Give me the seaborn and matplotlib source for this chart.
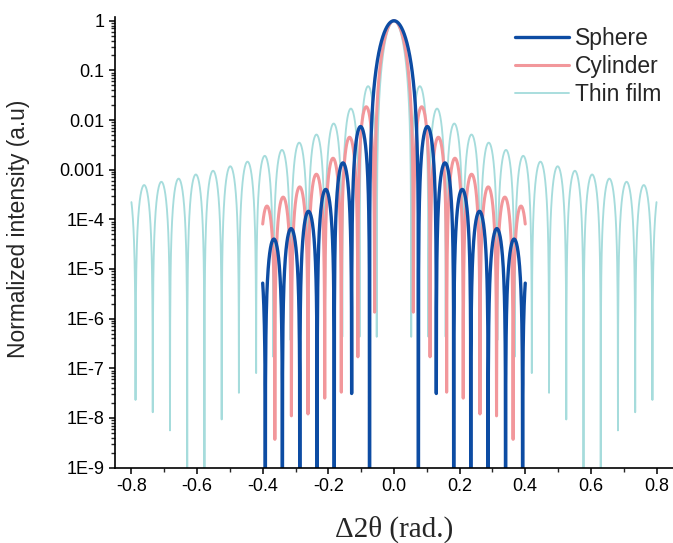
import numpy as np
import pandas as pd
import matplotlib
matplotlib.use("Agg")
import matplotlib.pyplot as plt
import seaborn as sns
from matplotlib.ticker import FixedLocator, NullFormatter, LogLocator, MultipleLocator

# ---------------- values (positive side, mirror symmetric) -------------
series_names = ["Sphere", "Cylinder", "Thin film"]

# zero (minimum) positions, side-lobe peak heights, depth of the drawn dips, last x
sphere_zeros = [0.0745, 0.129, 0.182, 0.234, 0.287, 0.340, 0.392, 0.444]
sphere_peaks = [0.0074, 0.00137, 4.0e-4, 1.45e-4, 6.5e-5, 4.0e-5, 2.4e-5]
sphere_dips = [1e-11, 3.1e-8, 1e-11, 1e-11, 1e-11, 1e-11, 1e-11]
sphere_xmax = 0.40

cyl_zeros = [0.059, 0.110, 0.1605, 0.211, 0.262, 0.3125, 0.363, 0.411]
cyl_peaks = [0.0185, 0.0045, 0.0017, 8.1e-4, 4.5e-4, 2.8e-4, 1.85e-4]
cyl_dips = [1.35e-6, 1.7e-7, 3.3e-8, 2.5e-8, 1.2e-8, 1.1e-8, 3.7e-9]
cyl_xmax = 0.40

film_zeros = [0.0525, 0.105, 0.1575, 0.21, 0.2625, 0.315, 0.3675, 0.42, 0.4725,
              0.525, 0.5775, 0.63, 0.6825, 0.735, 0.7875, 0.84]
film_peaks = [0.048, 0.0170, 0.0085, 0.0051, 0.0035, 0.0025, 0.0019, 0.00145,
              0.00117, 0.00095, 0.00080, 0.00066, 0.00057, 0.00049, 0.00048]
film_dips = [4.3e-7, 4.3e-7, 4.3e-7, 4.0e-7, 4.3e-7, 3.7e-7, 1.7e-7, 8.0e-8,
             3.2e-8, 9.3e-9, 1e-11, 1e-11, 5.6e-9, 1.3e-8, 2.3e-8]
film_xmax = 0.80

xtick_vals = [-0.8, -0.6, -0.4, -0.2, 0.0, 0.2, 0.4, 0.6, 0.8]
xtick_labels = ["-0.8", "-0.6", "-0.4", "-0.2", "0.0", "0.2", "0.4", "0.6", "0.8"]
ytick_vals = [1, 0.1, 0.01, 0.001, 1e-4, 1e-5, 1e-6, 1e-7, 1e-8, 1e-9]
ytick_labels = ["1", "0.1", "0.01", "0.001", "1E-4", "1E-5", "1E-6", "1E-7", "1E-8", "1E-9"]

colors = {"Sphere": "#0D4CA3", "Cylinder": "#F2979B", "Thin film": "#A6DCDC"}
widths = {"Sphere": 2.4, "Cylinder": 2.2, "Thin film": 1.35}


def lobe_curve(zeros, peaks, dips, xmax, n=90):
    """Trace the lobes between the read zero positions, scaled to the read peaks."""
    xs, ys = [], []
    s = np.linspace(0, 1, n, endpoint=False)
    xs.append(s * zeros[0])
    ys.append(np.sinc(s) ** 2)
    for k in range(len(zeros) - 1):
        z0, z1 = zeros[k], zeros[k + 1]
        if z0 > xmax:
            break
        xs.append(np.array([z0]))
        ys.append(np.array([dips[k]]))
        s = np.linspace(0, 1, n + 1)[1:-1]
        x = z0 + s * (z1 - z0)
        y = peaks[k] * np.sin(np.pi * s) ** 2
        keep = x < xmax
        xs.append(x[keep])
        ys.append(y[keep])
        if z1 > xmax:
            se = (xmax - z0) / (z1 - z0)
            xs.append(np.array([xmax]))
            ys.append(np.array([peaks[k] * np.sin(np.pi * se) ** 2]))
            break
    x = np.concatenate(xs)
    y = np.concatenate(ys)
    xf = np.concatenate([-x[::-1], x[1:]])
    yf = np.concatenate([y[::-1], y[1:]])
    return xf, yf


frames = []
for name, (zz, pp, dd, xm) in zip(series_names, [
        (sphere_zeros, sphere_peaks, sphere_dips, sphere_xmax),
        (cyl_zeros, cyl_peaks, cyl_dips, cyl_xmax),
        (film_zeros, film_peaks, film_dips, film_xmax)]):
    xv, yv = lobe_curve(zz, pp, dd, xm)
    frames.append(pd.DataFrame({"x": xv, "y": yv, "series": name}))
df = pd.concat(frames, ignore_index=True)

sns.set_style("ticks")
plt.rcParams["font.family"] = ["Liberation Sans", "DejaVu Sans"]

fig = plt.figure(figsize=(6.73, 5.43), dpi=100)
ax = fig.add_axes([0.1709, 0.139, 0.829, 0.829])

for name in ["Thin film", "Cylinder", "Sphere"]:
    sub = df[df["series"] == name]
    sns.lineplot(data=sub, x="x", y="y", ax=ax, color=colors[name], lw=widths[name],
                 estimator=None, sort=False, label=name, legend=False)

ax.set_yscale("log")
ax.set_xlim(-0.85, 0.85)
ax.set_ylim(1e-9, 1.17)

ax.xaxis.set_major_locator(FixedLocator(xtick_vals))
ax.set_xticklabels(xtick_labels)
ax.xaxis.set_minor_locator(MultipleLocator(0.1))
ax.yaxis.set_major_locator(FixedLocator(ytick_vals))
ax.set_yticklabels(ytick_labels)
ax.yaxis.set_minor_locator(LogLocator(base=10, subs=np.arange(2, 10) * 1.0, numticks=100))
ax.yaxis.set_minor_formatter(NullFormatter())

ax.tick_params(axis="both", which="major", direction="out", length=4.5, width=1.1,
               labelsize=13, colors="black", pad=3)
ax.tick_params(axis="both", which="minor", direction="out", length=2.6, width=1.0)
for side in ["left", "bottom"]:
    ax.spines[side].set_linewidth(1.2)
    ax.spines[side].set_color("black")
ax.spines["top"].set_visible(False)
ax.spines["right"].set_visible(False)

ax.set_ylabel("Normalized intensity (a.u)", fontsize=16.4)
ax.yaxis.set_label_coords(-0.152, 0.53)
ax.set_xlabel("Δ2θ (rad.)", fontsize=21, family=["Liberation Serif", "DejaVu Serif"])
ax.xaxis.set_label_coords(0.5, -0.108)

handles, labels = ax.get_legend_handles_labels()
order = [labels.index(n) for n in series_names]
ax.legend([handles[i] for i in order], [labels[i] for i in order],
          loc="upper left", bbox_to_anchor=(515 / 673, 1 - 27 / 543),
          bbox_transform=fig.transFigure, frameon=False, fontsize=16.5,
          handlelength=2.35, handletextpad=0.25, labelspacing=0.22,
          borderpad=0, borderaxespad=0)

fig.savefig("out.png", dpi=100)
